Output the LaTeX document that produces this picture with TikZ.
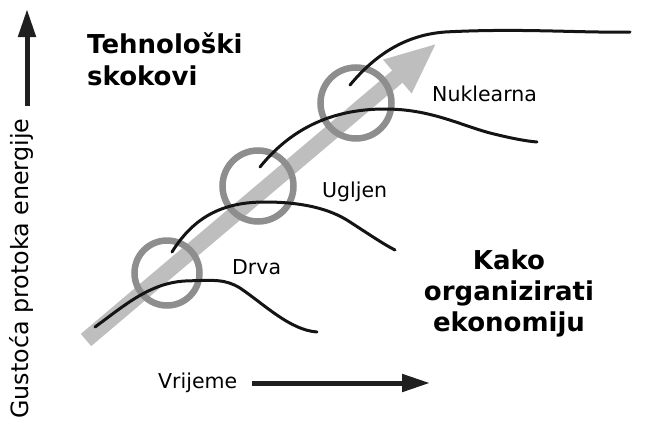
\documentclass[tikz,border=0pt]{standalone}
\usepackage{fontspec}
\setmainfont{DejaVu Sans}
\usetikzlibrary{arrows.meta}
\definecolor{bandgray}{HTML}{BEBEBE}
\definecolor{ringgray}{HTML}{8E8E8E}
\begin{document}
\begin{tikzpicture}[x=1pt,y=-1pt,
  curve/.style={line width=3pt, black!92, line cap=round},
  ring/.style={circle, draw=ringgray, line width=6.5pt, inner sep=0pt},
  lbl/.style={font=\fontsize{20.5}{24}\selectfont, inner sep=0pt, anchor=base west},
  big/.style={font=\fontsize{26}{30}\selectfont\bfseries, inner sep=0pt},
  axis/.style={line width=5pt, black!88, -{Triangle[length=28pt,width=17pt]}}]
\useasboundingbox (0,0) rectangle (649,421);
% grey progress band
\coordinate (b0) at (86,340);
\coordinate (b1) at (437,43);
\draw[line width=16pt, bandgray, -{Triangle[length=52pt,width=40pt]}] (b0) -- (b1);
% rings
\node[ring, minimum size=65pt] (c1) at (167,273) {};
\node[ring, minimum size=71pt] (c2) at (258,186) {};
\node[ring, minimum size=71pt] (c3) at (356,103) {};
% curves
\coordinate (d0) at (95,327);
\coordinate (d1) at (317,332);
\draw[curve] (d0) .. controls (125,305) and (150,283) .. (185,281)
  .. controls (215,280) and (225,279) .. (240,288)
  .. controls (265,305) and (290,330) .. (d1);
\coordinate (u0) at (172,252);
\coordinate (u1) at (395,250);
\draw[curve] (u0) .. controls (195,215) and (225,202) .. (265,202)
  .. controls (310,202) and (335,212) .. (350,222)
  .. controls (370,235) and (385,245) .. (u1);
\coordinate (n0) at (260,167);
\coordinate (n1) at (537,142);
\draw[curve] (n0) .. controls (290,130) and (330,109) .. (385,109)
  .. controls (430,109) and (460,125) .. (490,133)
  .. controls (510,138) and (525,141) .. (n1);
\coordinate (f0) at (350,85);
\coordinate (f1) at (630,32);
\draw[curve] (f0) .. controls (375,55) and (405,35) .. (445,32)
  .. controls (520,28) and (580,33) .. (f1);
% labels
\node[lbl] (drva) at (232,274) {Drva};
\node[lbl] (ugljen) at (322,197) {Ugljen};
\node[lbl] (nukl) at (432,101) {Nuklearna};
\node[lbl] (vrij) at (158,388) {Vrijeme};
% axes
\coordinate (v0) at (27,106);
\coordinate (v1) at (27,9);
\draw[axis] (v0) -- (v1);
\coordinate (h0) at (252,383);
\coordinate (h1) at (430,383);
\draw[axis] (h0) -- (h1);
\node[font=\fontsize{23.8}{28}\selectfont, inner sep=0pt, rotate=90, anchor=base west] (ylab) at (28,419) {Gustoća protoka energije};
% headings
\node[big, anchor=base west] (t1) at (87,53) {Tehnološki};
\node[big, anchor=base west] (t2) at (87,85) {skokovi};
\node[big, anchor=base] (k1) at (509,269) {Kako};
\node[big, anchor=base] (k2) at (509,300) {organizirati};
\node[big, anchor=base] (k3) at (509,331) {ekonomiju};
\end{tikzpicture}
\end{document}
